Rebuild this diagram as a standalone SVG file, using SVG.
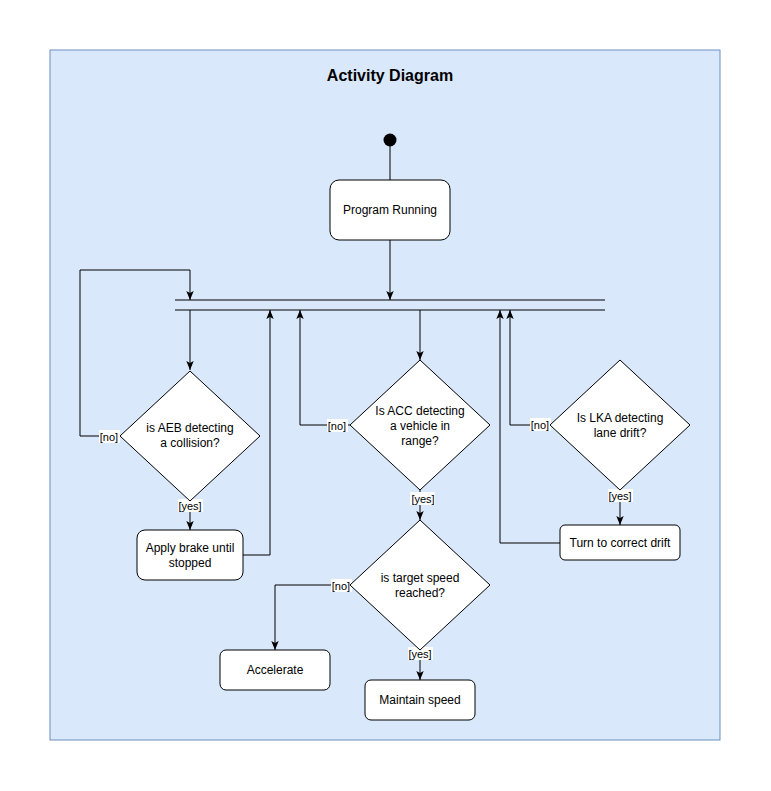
<svg xmlns="http://www.w3.org/2000/svg" width="771" height="791" viewBox="0 0 771 791">
<style>
.node{fill:#ffffff;stroke:#000000;stroke-width:1}
.t{font-family:"Liberation Sans",Arial,sans-serif;font-size:12px;fill:#000;text-anchor:middle}
.lbl{font-family:"Liberation Sans",Arial,sans-serif;font-size:11px;fill:#000;text-anchor:middle}
.lb{fill:#ffffff}
.e{fill:none;stroke:#000;stroke-width:1}
</style>
<defs>
<marker id="arr" viewBox="0 0 9 8" refX="9" refY="4" markerWidth="9" markerHeight="8" markerUnits="userSpaceOnUse" orient="auto">
<path d="M0,0.3 L9,4 L0,7.7 L2,4 Z" fill="#000"/>
</marker>
</defs>
<rect x="0" y="0" width="771" height="791" fill="#ffffff"/>
<g id="container">
<rect x="50" y="50" width="670" height="690" fill="#dae8fc" stroke="#6c8ebf" stroke-width="1"/>
<text x="390" y="81" style="font-family:'Liberation Sans',Arial,sans-serif;font-size:16px;font-weight:bold;text-anchor:middle">Activity Diagram</text>
</g>
<g id="connectors">
<path class="e" d="M390,146 L390,180"/>
<path class="e" d="M390,240 L390,300" marker-end="url(#arr)"/>
<path class="e" d="M190,310 L190,370" marker-end="url(#arr)"/>
<path class="e" d="M120,436 L80,436 L80,270 L190,270 L190,300" marker-end="url(#arr)"/>
<path class="e" d="M190,500 L190,530" marker-end="url(#arr)"/>
<path class="e" d="M243,555 L270,555 L270,310" marker-end="url(#arr)"/>
<path class="e" d="M420,310 L420,360" marker-end="url(#arr)"/>
<path class="e" d="M350,425 L300,425 L300,310" marker-end="url(#arr)"/>
<path class="e" d="M420,490 L420,520" marker-end="url(#arr)"/>
<path class="e" d="M350,585 L275,585 L275,650" marker-end="url(#arr)"/>
<path class="e" d="M420,650 L420,680" marker-end="url(#arr)"/>
<path class="e" d="M550,425 L510,425 L510,310" marker-end="url(#arr)"/>
<path class="e" d="M620,490 L620,525" marker-end="url(#arr)"/>
<path class="e" d="M560,543 L500,543 L500,310" marker-end="url(#arr)"/>
<rect class="lb" x="99" y="430" width="21" height="13"/>
<text class="lbl" x="109" y="441">[no]</text>
<rect class="lb" x="178" y="499" width="25" height="13"/>
<text class="lbl" x="190" y="510">[yes]</text>
<rect class="lb" x="327" y="419" width="21" height="13"/>
<text class="lbl" x="337" y="430">[no]</text>
<rect class="lb" x="410" y="492" width="25" height="13"/>
<text class="lbl" x="423" y="503">[yes]</text>
<rect class="lb" x="331" y="579" width="21" height="13"/>
<text class="lbl" x="341" y="590">[no]</text>
<rect class="lb" x="408" y="647" width="25" height="13"/>
<text class="lbl" x="420" y="658">[yes]</text>
<rect class="lb" x="530" y="418" width="21" height="13"/>
<text class="lbl" x="540" y="429">[no]</text>
<rect class="lb" x="608" y="489" width="25" height="13"/>
<text class="lbl" x="620" y="500">[yes]</text>
</g>
<g id="start">
<circle cx="390" cy="140" r="6.5" fill="#000"/>
</g>
<g id="program-running">
<rect class="node" x="330" y="180" width="120" height="60" rx="9"/>
<text class="t" x="390" y="214">Program Running</text>
</g>
<g id="fork-bar">
<line x1="175" y1="300" x2="605" y2="300" stroke="#000"/>
<line x1="175" y1="310" x2="605" y2="310" stroke="#000"/>
</g>
<g id="aeb-decision">
<polygon class="node" points="190,371 260,436 190,501 120,436"/>
<text class="t" x="190" y="432">is AEB detecting</text>
<text class="t" x="190" y="447">a collision?</text>
</g>
<g id="apply-brake">
<rect class="node" x="137" y="530" width="106" height="50" rx="8"/>
<text class="t" x="190" y="552">Apply brake until</text>
<text class="t" x="190" y="567">stopped</text>
</g>
<g id="acc-decision">
<polygon class="node" points="420,360 490,425 420,490 350,425"/>
<text class="t" x="420" y="415">Is ACC detecting</text>
<text class="t" x="420" y="430">a vehicle in</text>
<text class="t" x="420" y="445">range?</text>
</g>
<g id="target-decision">
<polygon class="node" points="420,520 490,585 420,650 350,585"/>
<text class="t" x="420" y="582">is target speed</text>
<text class="t" x="420" y="597">reached?</text>
</g>
<g id="accelerate">
<rect class="node" x="220" y="650" width="110" height="40" rx="6"/>
<text class="t" x="275" y="674">Accelerate</text>
</g>
<g id="maintain-speed">
<rect class="node" x="365" y="680" width="110" height="40" rx="6"/>
<text class="t" x="420" y="704">Maintain speed</text>
</g>
<g id="lka-decision">
<polygon class="node" points="620,360 690,425 620,490 550,425"/>
<text class="t" x="620" y="422">Is LKA detecting</text>
<text class="t" x="620" y="437">lane drift?</text>
</g>
<g id="turn-correct">
<rect class="node" x="560" y="525" width="120" height="35" rx="5"/>
<text class="t" x="620" y="547">Turn to correct drift</text>
</g>
</svg>
